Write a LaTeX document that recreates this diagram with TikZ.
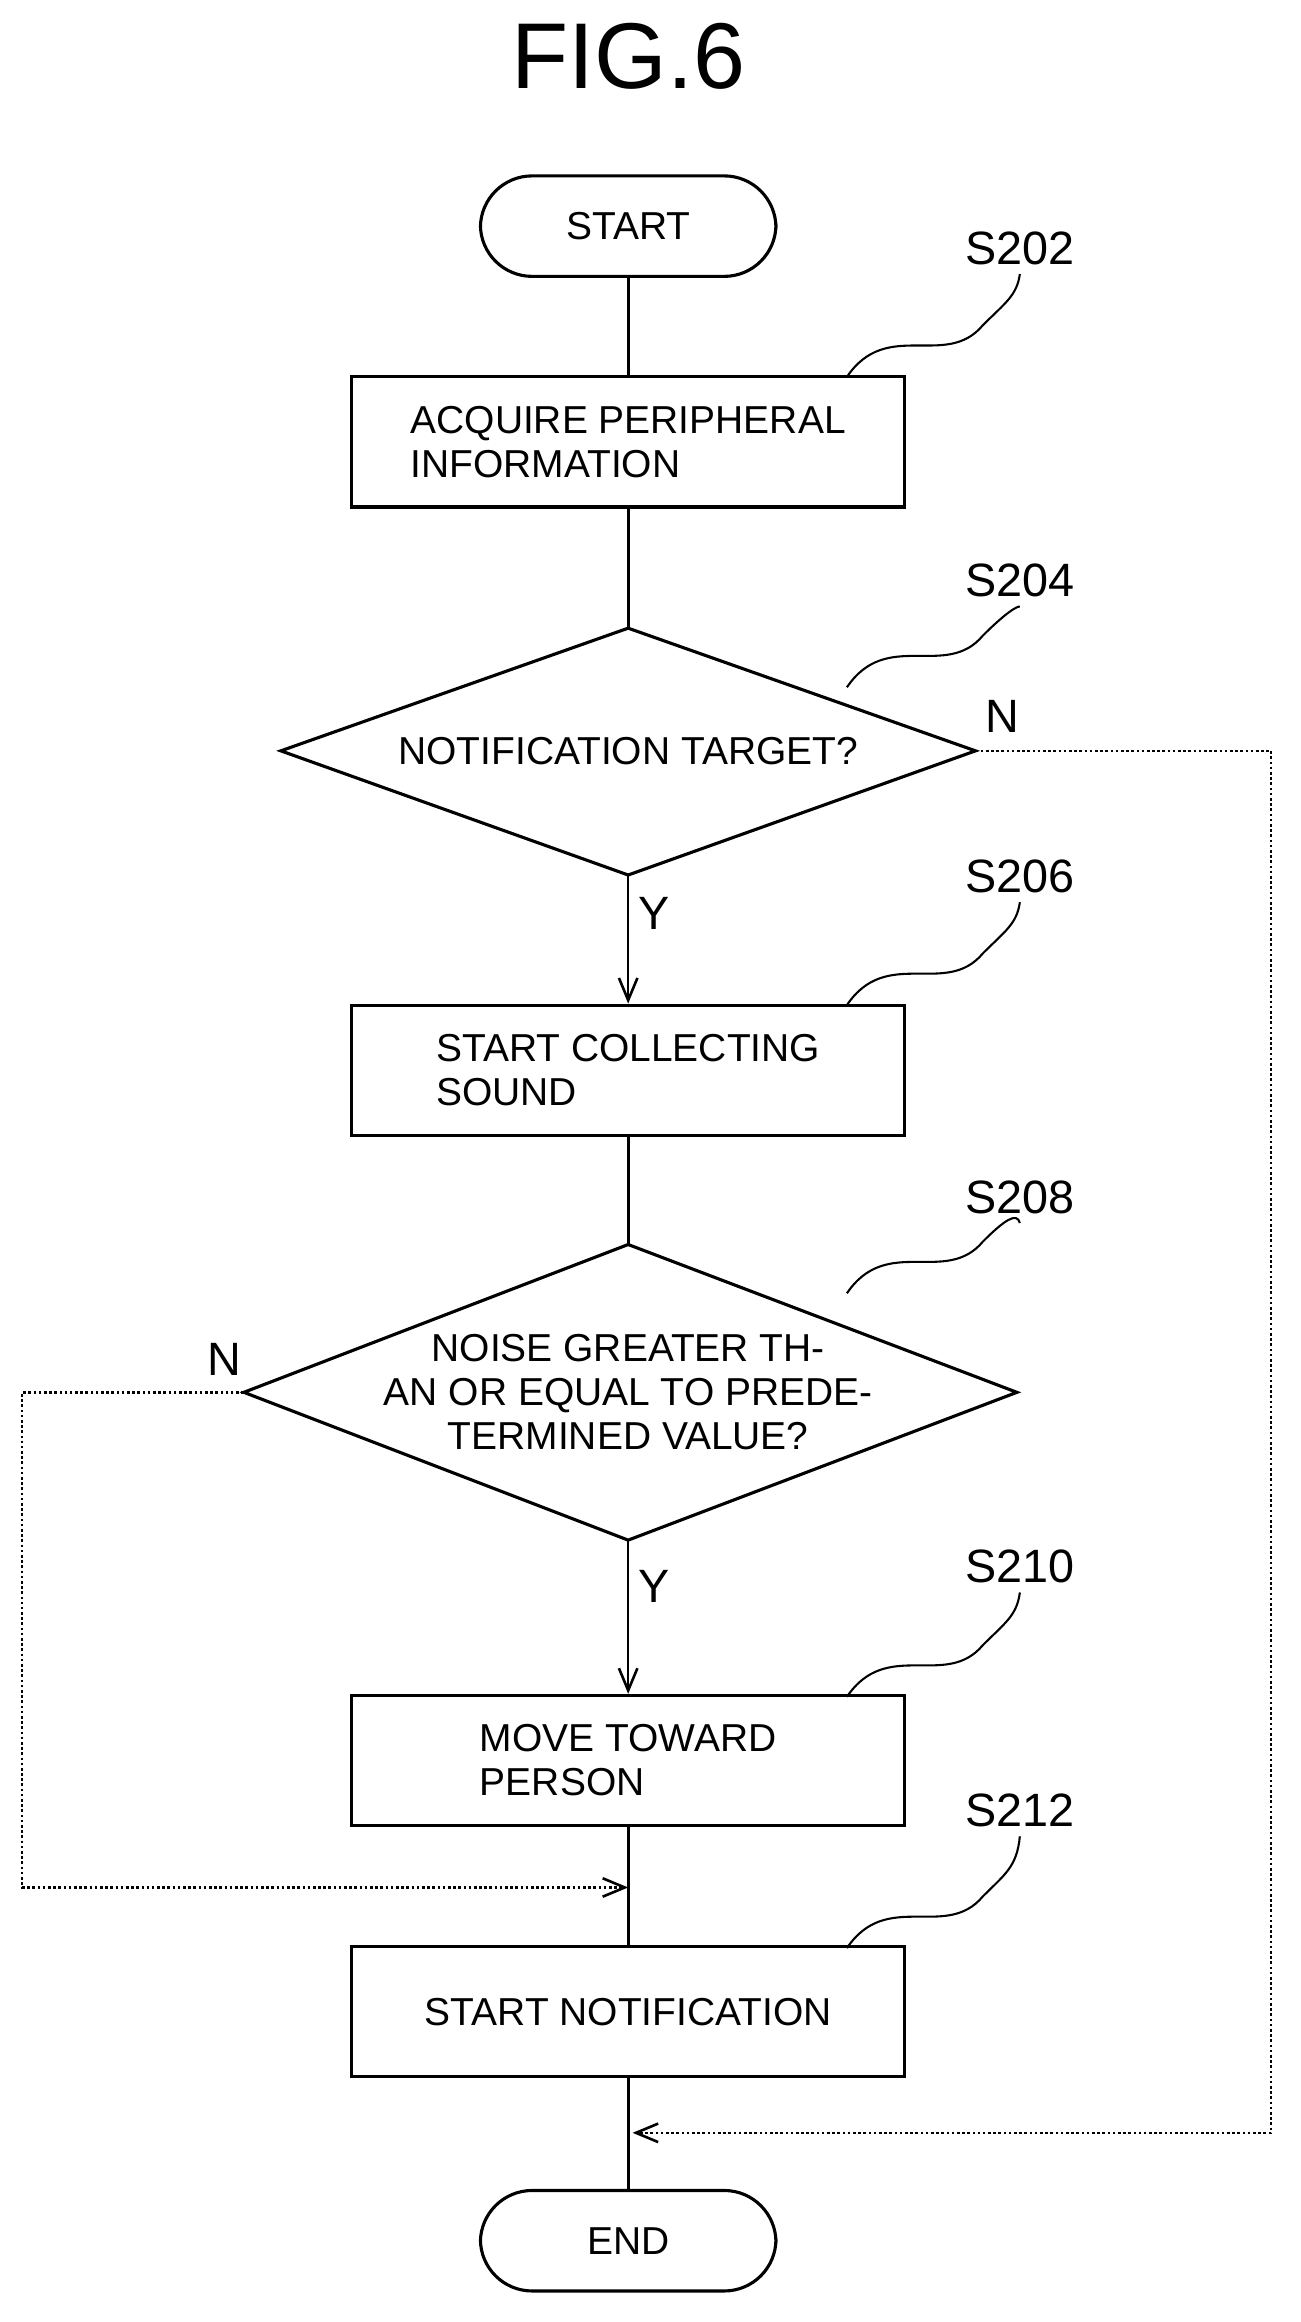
\documentclass[tikz,border=0pt]{standalone}
\usepackage{fontspec}
\setmainfont{Liberation Sans}
\usetikzlibrary{arrows.meta,positioning}
\tikzset{
  proc/.style={draw,line width=1.2pt,minimum width=7.48cm,minimum height=1.76cm,font=\fontsize{15}{17}\selectfont,align=left},
  term/.style={draw,line width=1.2pt,rounded corners=0.7cm,minimum width=4cm,minimum height=1.36cm,font=\fontsize{15}{17}\selectfont},
  dectext/.style={font=\fontsize{15}{17}\selectfont,align=center},
  edge/.style={line width=1.2pt},
  lbl/.style={font=\fontsize{18}{20}\selectfont},
  flow/.style={line width=1pt,-{Straight Barb[length=3mm,width=2.5mm]}},
  loop/.style={line width=1pt,densely dotted,-{Straight Barb[length=3mm,width=2.5mm]}},
  wig/.style={line width=0.8pt}
}
\begin{document}
\begin{tikzpicture}[x=0.02cm,y=-0.02cm]
\useasboundingbox (0,0) rectangle (880,1571);
% Titolo
\node[font=\fontsize{36}{40}\selectfont] (title) at (425,38) {FIG.6};
% Nodi
\node[term] (start) at (425,153) {START};
\node[proc] (s202) at (425,299) {ACQUIRE PERIPHERAL\\INFORMATION};
\node[dectext] (s204) at (425,508) {NOTIFICATION TARGET?};
\node[proc] (s206) at (425,724) {START COLLECTING\\SOUND};
\node[dectext] (s208) at (425,942) {NOISE GREATER TH-\\AN OR EQUAL TO PREDE-\\TERMINED VALUE?};
\node[proc] (s210) at (425,1191) {MOVE TOWARD\\PERSON};
\node[proc] (s212) at (425,1361) {START NOTIFICATION};
\node[term] (end) at (425,1516) {END};
% Rombi
\coordinate (s204t) at (425,425); \coordinate (s204b) at (425,592);
\coordinate (s204l) at (190,508); \coordinate (s204r) at (660,508);
\draw[edge] (s204t) -- (s204r) -- (s204b) -- (s204l) -- cycle;
\coordinate (s208t) at (425,842); \coordinate (s208b) at (425,1042);
\coordinate (s208l) at (165,942); \coordinate (s208r) at (688,942);
\draw[edge] (s208t) -- (s208r) -- (s208b) -- (s208l) -- cycle;
% Etichette passi
\node[lbl] (l202) at (690,168) {S202};
\node[lbl] (l204) at (690,393) {S204};
\node[lbl] (l206) at (690,593) {S206};
\node[lbl] (l208) at (690,810) {S208};
\node[lbl] (l210) at (690,1060) {S210};
\node[lbl] (l212) at (690,1225) {S212};
% Linee ondulate
\foreach \n/\x/\y in {202/573/255,204/573/465,206/573/680,208/573/875,210/573/1148,212/573/1318}
  \draw[wig] (\x,\y) .. controls (600,\y-40) and (640,\y-5) .. (665,\y-35) .. controls (680,\y-50) and (688,\y-55) .. (l\n.south);
% Frecce
\draw[edge] (start) -- (s202);
\draw[edge] (s202) -- (s204t);
\draw[flow] (s204b) -- (s206) node[pos=0.3,right,lbl] (y1) {Y};
\draw[edge] (s206) -- (s208t);
\draw[flow] (s208b) -- (s210) node[pos=0.3,right,lbl] (y2) {Y};
\draw[edge] (s210) -- (s212);
\draw[edge] (s212) -- (end);
% Rami N
\coordinate (m1) at (428,1443);
\coordinate (m2) at (425,1277);
\draw[loop] (s204r) -- (860,508) -- (860,1443) -- (m1);
\node[lbl] (n1) at (678,485) {N};
\draw[loop] (s208l) -- (15,942) -- (15,1277) -- (m2);
\node[lbl] (n2) at (152,920) {N};
\end{tikzpicture}
\end{document}
